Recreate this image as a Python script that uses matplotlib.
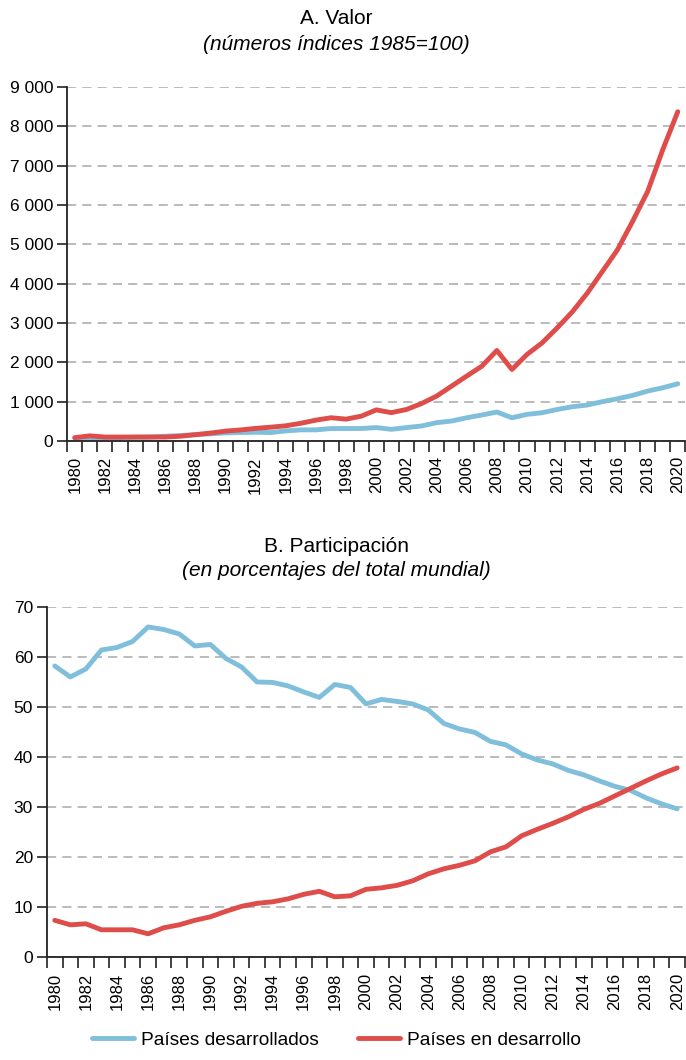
import matplotlib
matplotlib.use('Agg')
import matplotlib.pyplot as plt
from matplotlib.ticker import FuncFormatter, MultipleLocator

plt.rcParams['font.family'] = ['Liberation Sans', 'DejaVu Sans']

# datos
anios = list(range(1980, 2021))

valor_desarrollados = [70, 75, 80, 85, 95, 100, 120, 137, 162, 180,
                       205, 214, 222, 214, 256, 282, 282, 316, 316, 316,
                       340, 296, 340, 380, 465, 507, 590, 660, 735, 590,
                       676, 718, 800, 870, 913, 1000, 1073, 1158, 1268, 1352,
                       1454]
valor_en_desarrollo = [85, 130, 100, 100, 100, 100, 100, 120, 160, 200,
                       250, 280, 320, 350, 385, 450, 530, 590, 555, 630,
                       790, 720, 800, 950, 1140, 1395, 1650, 1900, 2300, 1817,
                       2200, 2494, 2874, 3280, 3760, 4310, 4860, 5580, 6340, 7400,
                       8370]

part_desarrollados = [58.3, 56.1, 57.7, 61.5, 62.0, 63.2, 66.1, 65.6, 64.7, 62.3,
                      62.6, 59.8, 58.1, 55.1, 55.0, 54.3, 53.1, 52.0, 54.6, 54.0,
                      50.7, 51.6, 51.2, 50.7, 49.5, 46.8, 45.7, 45.0, 43.2, 42.5,
                      40.7, 39.5, 38.7, 37.4, 36.5, 35.3, 34.2, 33.4, 31.9, 30.7,
                      29.7]
part_en_desarrollo = [7.4, 6.5, 6.7, 5.5, 5.5, 5.5, 4.7, 5.9, 6.5, 7.4,
                      8.1, 9.2, 10.2, 10.8, 11.1, 11.7, 12.6, 13.2, 12.1, 12.3,
                      13.6, 13.9, 14.4, 15.3, 16.7, 17.7, 18.4, 19.3, 21.1, 22.1,
                      24.3, 25.6, 26.8, 28.1, 29.6, 30.8, 32.3, 33.8, 35.3, 36.7,
                      37.9]

etiquetas_anios = [str(a) for a in anios if a % 2 == 0]

AZUL = '#80BFDC'
ROJO = '#DF4D4B'


def miles(v, pos):
    return '{:,.0f}'.format(v).replace(',', ' ')


def preparar_eje(ax, ymax, paso, formato=None):
    ax.set_xlim(1979.5, 2020.5)
    ax.set_ylim(0, ymax)
    ax.yaxis.set_major_locator(MultipleLocator(paso))
    if formato:
        ax.yaxis.set_major_formatter(FuncFormatter(formato))
    ax.set_xticks([a for a in anios if a % 2 == 0])
    ax.set_xticklabels(etiquetas_anios, rotation=90)
    ax.set_xticks([a - 0.5 for a in anios] + [2020.5], minor=True)
    ax.tick_params(axis='x', which='major', length=0, pad=11, labelsize=12)
    ax.tick_params(axis='x', which='minor', length=8, width=1.2, color='#222222')
    ax.tick_params(axis='y', length=7, width=1.2, labelsize=12.5, pad=3, color='#222222')
    ax.grid(axis='y', linestyle=(0, (6, 4)), color='#a8a8a8', linewidth=1.1)
    ax.set_axisbelow(True)
    for s in ['top', 'right']:
        ax.spines[s].set_visible(False)
    for s in ['left', 'bottom']:
        ax.spines[s].set_color('#222222')
        ax.spines[s].set_linewidth(1.3)


fig = plt.figure(figsize=(6.86, 10.6), dpi=100)

ax1 = fig.add_axes([0.098, 0.584, 0.901, 0.334])
ax1.plot(anios, valor_desarrollados, color=AZUL, linewidth=3.5, solid_capstyle='round')
ax1.plot(anios, valor_en_desarrollo, color=ROJO, linewidth=3.5, solid_capstyle='round')
preparar_eje(ax1, 9000, 1000, miles)

ax2 = fig.add_axes([0.0685, 0.0969, 0.930, 0.330])
l1, = ax2.plot(anios, part_desarrollados, color=AZUL, linewidth=3.5, solid_capstyle='round')
l2, = ax2.plot(anios, part_en_desarrollo, color=ROJO, linewidth=3.5, solid_capstyle='round')
preparar_eje(ax2, 70, 10)

fig.text(0.49, 1 - 18 / 1060, 'A. Valor', ha='center', va='center', fontsize=15)
fig.text(0.49, 1 - 45 / 1060, '(números índices 1985=100)', ha='center', va='center',
         fontsize=15, style='italic')
fig.text(0.49, 1 - 546 / 1060, 'B. Participación', ha='center', va='center', fontsize=15)
fig.text(0.49, 1 - 570 / 1060, '(en porcentajes del total mundial)', ha='center', va='center',
         fontsize=15, style='italic')

fig.legend([l1, l2], ['Países desarrollados', 'Países en desarrollo'],
           loc='center', bbox_to_anchor=(0.4905, 1 - 1040 / 1060), ncol=2, frameon=False,
           fontsize=13.8, handlelength=2.2, columnspacing=2.0, handletextpad=0.4)

fig.savefig('out.png', dpi=100)
